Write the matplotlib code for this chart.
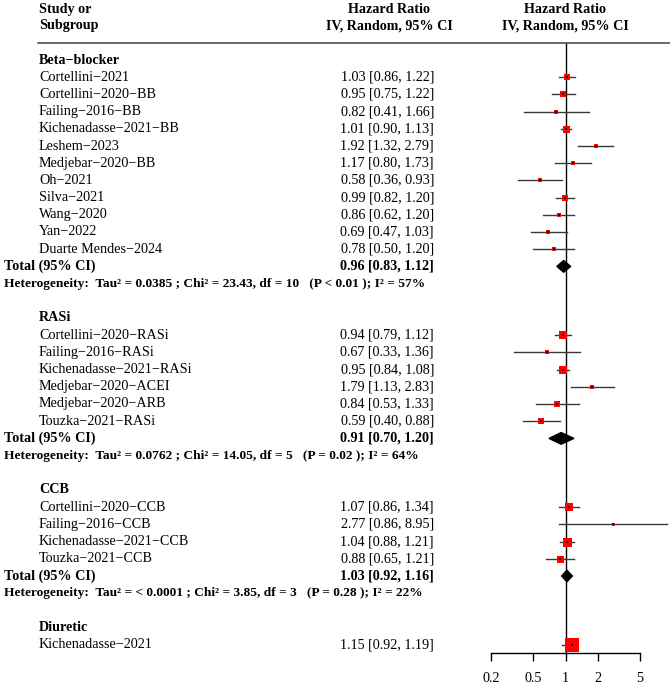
import numpy as np
import matplotlib
matplotlib.use('Agg')
import matplotlib.pyplot as plt
from matplotlib import transforms
from matplotlib.patches import Polygon

plt.rcParams['font.family'] = ['Liberation Serif', 'DejaVu Serif']

# dados por subgrupo
bb_names = ['Cortellini−2021', 'Cortellini−2020−BB', 'Failing−2016−BB', 'Kichenadasse−2021−BB',
            'Leshem−2023', 'Medjebar−2020−BB', 'Oh−2021', 'Silva−2021', 'Wang−2020', 'Yan−2022',
            'Duarte Mendes−2024']
bb_hr = [1.03, 0.95, 0.82, 1.01, 1.92, 1.17, 0.58, 0.99, 0.86, 0.69, 0.78]
bb_lo = [0.86, 0.75, 0.41, 0.90, 1.32, 0.80, 0.36, 0.82, 0.62, 0.47, 0.50]
bb_hi = [1.22, 1.22, 1.66, 1.13, 2.79, 1.73, 0.93, 1.20, 1.20, 1.03, 1.20]
bb_w = [6, 5.5, 3.5, 7, 4.5, 4.5, 4, 6, 5, 4.5, 4]
bb_total = [0.96, 0.83, 1.12]
bb_het = 'Tau² = 0.0385 ; Chi² = 23.43, df = 10   (P < 0.01 ); I² = 57%'

ras_names = ['Cortellini−2020−RASi', 'Failing−2016−RASi', 'Kichenadasse−2021−RASi',
             'Medjebar−2020−ACEI', 'Medjebar−2020−ARB', 'Touzka−2021−RASi']
ras_hr = [0.94, 0.67, 0.95, 1.79, 0.84, 0.59]
ras_lo = [0.79, 0.33, 0.84, 1.13, 0.53, 0.40]
ras_hi = [1.12, 1.36, 1.08, 2.83, 1.33, 0.88]
ras_w = [8, 3.5, 8, 5, 5.5, 6]
ras_total = [0.91, 0.70, 1.20]
ras_het = 'Tau² = 0.0762 ; Chi² = 14.05, df = 5   (P = 0.02 ); I² = 64%'

ccb_names = ['Cortellini−2020−CCB', 'Failing−2016−CCB', 'Kichenadasse−2021−CCB', 'Touzka−2021−CCB']
ccb_hr = [1.07, 2.77, 1.04, 0.88]
ccb_lo = [0.86, 0.86, 0.88, 0.65]
ccb_hi = [1.34, 8.95, 1.21, 1.21]
ccb_w = [8, 3, 9, 7]
ccb_total = [1.03, 0.92, 1.16]
ccb_het = 'Tau² = < 0.0001 ; Chi² = 3.85, df = 3   (P = 0.28 ); I² = 22%'

diu_names = ['Kichenadasse−2021']
diu_hr = [1.15]
diu_lo = [0.92]
diu_hi = [1.19]
diu_w = [14]

grupos = [
    ('Beta−blocker', bb_names, bb_hr, bb_lo, bb_hi, bb_w, bb_total, bb_het),
    ('RASi', ras_names, ras_hr, ras_lo, ras_hi, ras_w, ras_total, ras_het),
    ('CCB', ccb_names, ccb_hr, ccb_lo, ccb_hi, ccb_w, ccb_total, ccb_het),
    ('Diuretic', diu_names, diu_hr, diu_lo, diu_hi, diu_w, None, None),
]
ticks = [0.2, 0.5, 1, 2, 5]

W, H = 670, 686
fig = plt.figure(figsize=(W / 100, H / 100), dpi=100)

# layout em pixels
row0, dy = 60.0, 17.2
top_px, bot_px = 43.0, 652.5
ax = fig.add_axes([491 / W, 1 - bot_px / H, (640 - 491) / W, (bot_px - top_px) / H])
ax.set_xscale('log')
ax.set_xlim(0.2, 5)
ax.set_ylim((bot_px - row0) / dy, (top_px - row0) / dy)

tr = transforms.blended_transform_factory(fig.transFigure, ax.transData)
fs = 10.2

def fmt(h, l, u):
    return '%.2f [%.2f, %.2f]' % (h, l, u)

r = 0
for nome, names, hr, lo, hi, w, total, het in grupos:
    ax.text(39 / W, r, nome, transform=tr, fontsize=fs, fontweight='bold', va='center', clip_on=False)
    r += 1
    for i in range(len(names)):
        ax.text(39 / W, r, names[i], transform=tr, fontsize=fs, va='center', clip_on=False)
        ax.text(434 / W, r, fmt(hr[i], lo[i], hi[i]), transform=tr, fontsize=fs, va='center',
                ha='right', clip_on=False)
        ax.plot([lo[i], hi[i]], [r, r], color='#383838', lw=1.0, clip_on=False, zorder=2)
        ax.scatter([hr[i]], [r], marker='s', s=(w[i] * 0.72) ** 2, color='#ff0000',
                   linewidths=0, zorder=3, clip_on=False)
        ax.scatter([hr[i]], [r], marker='s', s=(1.8 * 0.72) ** 2, color='#3a0000',
                   linewidths=0, zorder=4, clip_on=False)
        r += 1
    if total is not None:
        ax.text(4 / W, r, 'Total (95% CI)', transform=tr, fontsize=fs, fontweight='bold',
                va='center', clip_on=False)
        ax.text(434 / W, r, fmt(*total), transform=tr, fontsize=fs, fontweight='bold',
                va='center', ha='right', clip_on=False)
        hh = 0.34
        ax.add_patch(Polygon([(total[1], r), (total[0], r - hh), (total[2], r), (total[0], r + hh)],
                             closed=True, color='black', zorder=4, clip_on=False))
        r += 1
        ax.text(4 / W, r, 'Heterogeneity:  ' + het, transform=tr, fontsize=9.6,
                fontweight='bold', va='center', clip_on=False)
        r += 2

# cabecalho
for y, s1, s2 in [(-2.91, 'Study or', 'Hazard Ratio'), (-1.98, 'Subgroup', 'IV, Random, 95% CI')]:
    ax.text(39 / W, y, s1, transform=tr, fontsize=fs, fontweight='bold', va='center', clip_on=False)
    ax.text(389 / W, y, s2, transform=tr, fontsize=fs, fontweight='bold', va='center',
            ha='center', clip_on=False)
    ax.text(1, y, s2, fontsize=fs, fontweight='bold', va='center', ha='center', clip_on=False)

ax.plot([38 / W, 1], [(top_px - row0) / dy] * 2, transform=tr, color='#404040', lw=1.1,
        clip_on=False)

ax.axvline(1, color='black', lw=1.0, zorder=1)

for sp in ['top', 'right', 'left']:
    ax.spines[sp].set_visible(False)
ax.spines['bottom'].set_bounds(0.2, 5)
ax.spines['bottom'].set_linewidth(1.0)
ax.set_xticks(ticks)
ax.set_xticklabels(['0.2', '0.5', '1', '2', '5'])
ax.xaxis.set_minor_locator(matplotlib.ticker.NullLocator())
ax.tick_params(axis='x', length=6, width=1.0, pad=8, labelsize=fs)
ax.set_yticks([])

fig.savefig('out.png', dpi=100)
